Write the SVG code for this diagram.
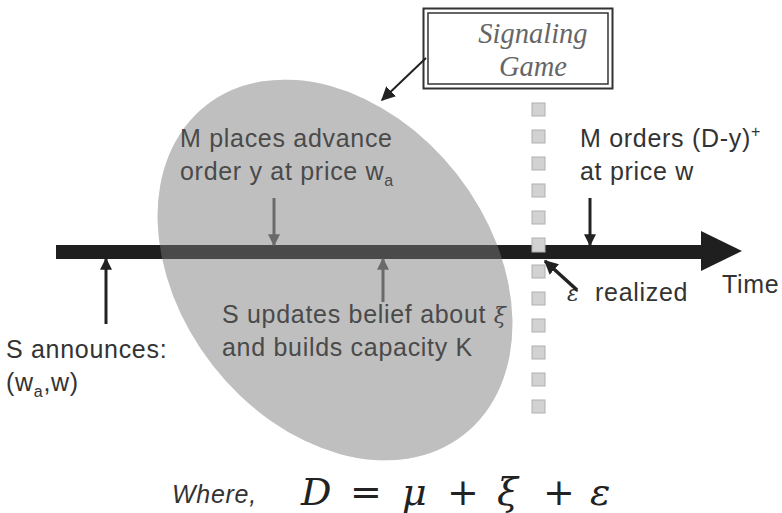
<svg xmlns="http://www.w3.org/2000/svg" width="782" height="513" viewBox="0 0 782 513">
<style>
.lbl{font-family:"Liberation Sans",Arial,sans-serif;font-size:25px;letter-spacing:0.7px;fill:#333}
.in{fill:#4a4a4a}
.sub{font-size:16px}
.box{font-family:"Liberation Serif","Times New Roman",serif;font-style:italic;font-size:28.5px;fill:#666}
.math{font-family:"DejaVu Serif","Liberation Serif",serif;font-style:italic;font-size:38px;fill:#222}
.up{font-style:normal}
.blk{stroke:#222;fill:none}
.gry{stroke:#6a6a6a;fill:none}
.sq{fill:#d2d2d2;stroke:#b0b0b0;stroke-width:1}
.gk{font-family:"DejaVu Serif",serif;font-style:italic;font-size:22px}
</style>
<defs>
<marker id="ab" viewBox="0 0 10 10" refX="9" refY="5" markerWidth="4" markerHeight="4" orient="auto" markerUnits="strokeWidth"><path d="M0,0 L10,5 L0,10 Z" fill="#222"/></marker>
<marker id="ag" viewBox="0 0 10 10" refX="9" refY="5" markerWidth="4" markerHeight="4" orient="auto" markerUnits="strokeWidth"><path d="M0,0 L10,5 L0,10 Z" fill="#6a6a6a"/></marker>
<marker id="as" viewBox="0 0 10 10" refX="9" refY="5" markerWidth="7" markerHeight="7" orient="auto" markerUnits="strokeWidth"><path d="M0,0 L10,5 L0,10 Z" fill="#222"/></marker>
<ellipse id="ell" cx="335" cy="270" rx="209" ry="155" transform="rotate(52 335 270)"/>
</defs>
<rect width="782" height="513" fill="#fff"/>
<g id="signaling-region">
<use href="#ell" fill="#bfbfbf"/>
</g>
<g id="timeline">
<rect x="56" y="245" width="647" height="14" fill="#1f1f1f"/>
<polygon points="701,231 742,251 701,271" fill="#1f1f1f"/>
<use href="#ell" fill="#bfbfbf" opacity="0.27"/>
</g>
<g id="dashed-line">
<rect class="sq" x="532" y="103" width="13" height="13"/>
<rect class="sq" x="532" y="130" width="13" height="13"/>
<rect class="sq" x="532" y="157" width="13" height="13"/>
<rect class="sq" x="532" y="184" width="13" height="13"/>
<rect class="sq" x="532" y="211" width="13" height="13"/>
<rect class="sq" x="532" y="238" width="13" height="14"/>
<rect class="sq" x="532" y="265" width="13" height="13"/>
<rect class="sq" x="532" y="292" width="13" height="13"/>
<rect class="sq" x="532" y="319" width="13" height="13"/>
<rect class="sq" x="532" y="346" width="13" height="13"/>
<rect class="sq" x="532" y="373" width="13" height="13"/>
<rect class="sq" x="532" y="400" width="13" height="13"/>
</g>
<g id="signaling-game">
<rect x="423.5" y="8.5" width="189" height="80" fill="#fff" stroke="#333" stroke-width="2"/>
<rect x="428" y="13" width="180" height="71" fill="none" stroke="#333" stroke-width="1.5"/>
<text class="box" x="533" y="43" text-anchor="middle">Signaling</text>
<text class="box" x="533" y="76" text-anchor="middle">Game</text>
</g>
<g id="m-places">
<text class="lbl in" x="180" y="147">M places advance</text>
<text class="lbl in" x="180" y="180">order y at price w<tspan class="sub" dy="6">a</tspan></text>
</g>
<g id="m-orders">
<text class="lbl" x="580" y="147">M orders (D-y)<tspan class="sub" dy="-10">+</tspan></text>
<text class="lbl" x="580" y="180">at price w</text>
</g>
<g id="time-label">
<text class="lbl" x="722" y="293">Time</text>
</g>
<g id="s-announces">
<text class="lbl" x="6" y="358">S announces:</text>
<text class="lbl" x="6" y="391">(w<tspan class="sub" dy="6">a</tspan><tspan dy="-6">,w)</tspan></text>
</g>
<g id="s-updates">
<text class="lbl in" x="222" y="323">S updates belief about <tspan class="gk">ξ</tspan></text>
<text class="lbl in" x="222" y="356">and builds capacity K</text>
</g>
<g id="eps-realized">
<text class="lbl" x="567" y="301"><tspan class="gk">ε</tspan><tspan x="595">realized</tspan></text>
</g>
<g id="equation">
<text class="lbl" x="172" y="503" font-style="italic" font-size="25.5">Where,</text>
<text class="math" y="505"><tspan x="301">D</tspan><tspan class="up" x="350">=</tspan><tspan x="402">μ</tspan><tspan class="up" x="447">+</tspan><tspan x="497">ξ</tspan><tspan class="up" x="543">+</tspan><tspan x="590">ε</tspan></text>
</g>
<g id="connectors">
<line class="gry" x1="274" y1="198" x2="274" y2="245" stroke-width="3" marker-end="url(#ag)"/>
<line class="blk" x1="590" y1="198" x2="590" y2="245" stroke-width="3" marker-end="url(#ab)"/>
<line class="blk" x1="106" y1="324" x2="106" y2="259" stroke-width="3" marker-end="url(#ab)"/>
<line class="gry" x1="383" y1="302" x2="383" y2="259" stroke-width="3" marker-end="url(#ag)"/>
<line class="blk" x1="577" y1="290" x2="545" y2="261" stroke-width="3.5" marker-end="url(#ab)"/>
<line class="blk" x1="426" y1="58" x2="382" y2="100" stroke-width="2" marker-end="url(#as)"/>
</g>
</svg>
